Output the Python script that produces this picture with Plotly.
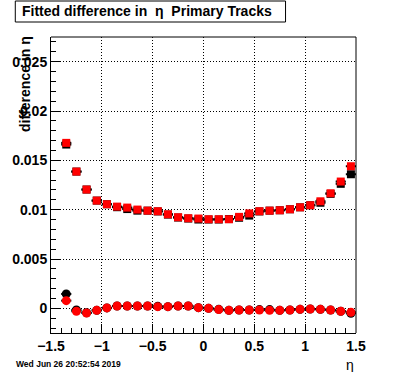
import plotly.graph_objects as go

eta = [-1.35, -1.25, -1.15, -1.05, -0.95, -0.85, -0.75, -0.65, -0.55, -0.45,
       -0.35, -0.25, -0.15, -0.05, 0.05, 0.15, 0.25, 0.35, 0.45, 0.55,
       0.65, 0.75, 0.85, 0.95, 1.05, 1.15, 1.25, 1.35, 1.45]

# upper band (squares)
black_sq = [0.0166, 0.01386, 0.01204, 0.01092, 0.01055, 0.01025, 0.01006, 0.0099, 0.0099, 0.00982,
            0.00950, 0.00920, 0.00910, 0.00900, 0.00900, 0.00900, 0.00905, 0.00918, 0.00940, 0.00982,
            0.0099, 0.00994, 0.01004, 0.01024, 0.01045, 0.0107, 0.0116, 0.01262, 0.01359]
red_sq = [0.01677, 0.01386, 0.01204, 0.01092, 0.01055, 0.01031, 0.01021, 0.01001, 0.0099, 0.00984,
          0.00953, 0.00923, 0.00913, 0.0091, 0.00903, 0.00903, 0.00903, 0.00927, 0.00962, 0.00984,
          0.0099, 0.00994, 0.01004, 0.01024, 0.01045, 0.01085, 0.01166, 0.01285, 0.0144]

# lower band (circles)
black_ci = [0.00146, -0.00016, -0.00045, -0.0002, 0.00004, 0.00024, 0.00024, 0.00024, 0.00024, 0.00020,
            0.00017, 0.00024, 0.00024, 0.00007, 0.0, -0.00010, -0.0002, -0.00017, -0.00017, -0.00013,
            -0.00013, -0.0002, -0.00017, -0.0001, -0.00007, -0.0001, -0.00017, -0.0003, -0.0005]
red_ci = [0.00078, -0.0003, -0.00047, -0.0002, 0.00004, 0.00024, 0.00024, 0.00024, 0.00024, 0.00017,
          0.00017, 0.00024, 0.00024, 0.00007, 0.0, -0.00013, -0.0002, -0.00017, -0.00017, -0.00017,
          -0.0002, -0.0002, -0.00017, -0.0001, -0.00007, -0.0001, -0.00017, -0.0003, -0.0004]

bin_half = [0.05] * len(eta)

x_ticks = [-1.5, -1, -0.5, 0, 0.5, 1, 1.5]
x_tick_text = ["\u22121.5", "\u22121", "\u22120.5", "0", "0.5", "1", "1.5"]
y_ticks = [0, 0.005, 0.01, 0.015, 0.02, 0.025]
y_tick_text = ["0", "0.005", "0.01", "0.015", "0.02", "0.025"]

FONT = "Liberation Sans, Arial, sans-serif"

def trace(y, color, symbol, size):
    return go.Scatter(
        x=eta, y=y, mode="markers",
        marker=dict(color=color, symbol=symbol, size=size, line=dict(width=0)),
        error_x=dict(type="data", array=bin_half, symmetric=True, color="black",
                     thickness=2, width=0),
        showlegend=False, hoverinfo="x+y",
    )

fig = go.Figure()
fig.add_trace(trace(black_sq, "black", "square", 8))
fig.add_trace(trace(black_ci, "black", "circle", 9))
fig.add_trace(trace(red_sq, "#ff0000", "square", 8))
fig.add_trace(trace(red_ci, "#ff0000", "circle", 9))

L, R, T, B = 40, 40, 37, 39
W, H = 396, 372
pw, ph = W - L - R, H - T - B

def px(xp):
    return (xp - L) / pw

def py(yp):
    return (H - B - yp) / ph

axis_common = dict(
    showline=True, linecolor="black", linewidth=1, mirror=False,
    ticks="inside", ticklen=9, tickwidth=1, tickcolor="black",
    showgrid=True, gridcolor="black", griddash="1px,2px", gridwidth=1,
    zeroline=False,
    tickfont=dict(family=FONT, size=14, color="black", weight="bold"),
)

fig.update_layout(
    width=W, height=H,
    margin=dict(l=L, r=R, t=T, b=B, pad=0),
    paper_bgcolor="white", plot_bgcolor="white",
    xaxis=dict(range=[-1.5, 1.5], tickvals=x_ticks, ticktext=x_tick_text,
               minor=dict(ticks="inside", ticklen=5, tickcolor="black", dtick=0.1, showgrid=False),
               **axis_common),
    yaxis=dict(range=[-0.0025, 0.0275], tickvals=y_ticks, ticktext=y_tick_text,
               minor=dict(ticks="inside", ticklen=5, tickcolor="black", dtick=0.001, showgrid=False),
               **axis_common),
    shapes=[
        dict(type="line", xref="paper", yref="paper", x0=1, x1=1, y0=0, y1=1,
             line=dict(color="black", width=1)),
        dict(type="line", xref="paper", yref="paper", x0=0, x1=1, y0=1, y1=1,
             line=dict(color="black", width=1)),
        dict(type="rect", xref="paper", yref="paper", x0=px(3), x1=px(283), y0=py(22), y1=py(1),
             line=dict(color="black", width=1), fillcolor="white"),
    ],
    annotations=[
        dict(text="Fitted difference in  \u03b7  Primary Tracks", xref="paper", yref="paper",
             x=px(139), y=py(11.5), xanchor="center", yanchor="middle", showarrow=False,
             font=dict(family=FONT, size=14, color="black", weight="bold")),
        dict(text="difference in \u03b7", xref="paper", yref="paper", textangle=-90,
             x=px(13), y=py(34), xanchor="center", yanchor="top", showarrow=False,
             font=dict(family=FONT, size=14, color="black", weight="bold")),
        dict(text="\u03b7", xref="paper", yref="paper",
             x=px(356), y=py(355), xanchor="right", yanchor="top", showarrow=False,
             font=dict(family=FONT, size=14, color="black")),
        dict(text="Wed Jun 26 20:52:54 2019", xref="paper", yref="paper",
             x=px(2), y=py(364), xanchor="left", yanchor="middle", showarrow=False,
             font=dict(family=FONT, size=8.5, color="black", weight="bold")),
    ],
)

fig.write_html("out.html", config={"displayModeBar": False},
               post_script="document.body.style.margin='0';document.body.style.overflow='hidden';")
